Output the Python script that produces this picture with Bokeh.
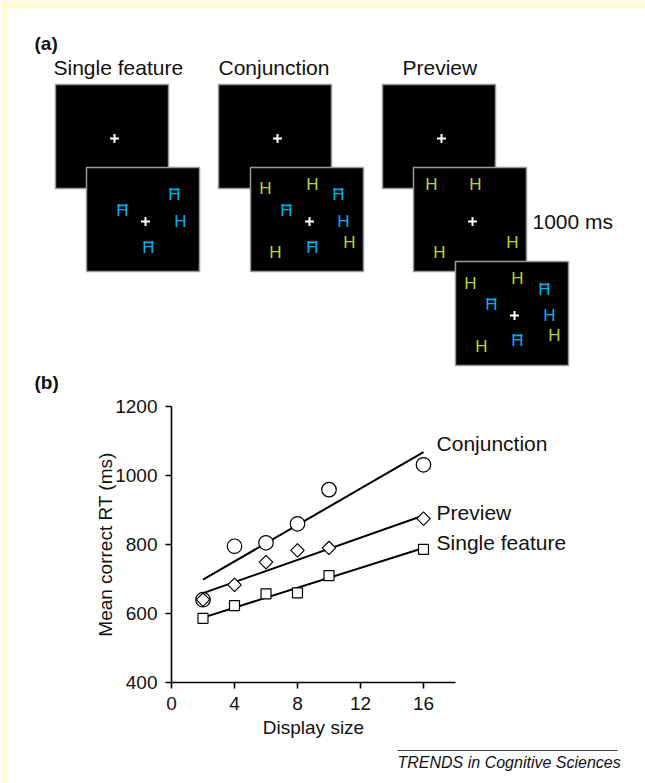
from bokeh.plotting import figure
from bokeh.models import Range1d, FixedTicker, LinearAxis
from bokeh.embed import file_html
from bokeh.resources import INLINE
from bokeh.core.properties import value
import math

# ---------------- data : panel (b) ----------------
display_size = [2, 4, 6, 8, 10, 16]
rt_single = [586, 623, 657, 660, 710, 786]
rt_preview = [640, 683, 749, 783, 790, 875]
rt_conjunction = [640, 795, 805, 860, 959, 1031]
fit_x = [2, 16]
fit_single = [588, 790]
fit_preview = [659, 884]
fit_conjunction = [698, 1068]
series_names = ["Conjunction", "Preview", "Single feature"]
series_label_y = [1093, 893, 806]
x_ticks = [0, 4, 8, 12, 16]
y_ticks = [400, 600, 800, 1000, 1200]

# ---------------- content : panel (a) ----------------
condition_titles = ["Single feature", "Conjunction", "Preview"]
duration_label = "1000 ms"
footer_text = "TRENDS in Cognitive Sciences"

FONT = "Liberation Sans"
BLUE = "#00AEEF"
GREEN = "#B2D235"
INK = "#111111"
PALE = "#FFFAD4"

W, H = 645, 783
p = figure(width=W, height=H, x_range=Range1d(0, W), y_range=Range1d(H, 0),
           x_axis_type=None, y_axis_type=None, min_border=0,
           toolbar_location=None, output_backend="svg", outline_line_color=None)
p.grid.visible = False

# page frame (pale strip on top / left)
p.quad(left=[0, 0], right=[W, 7.5], top=[0, 0], bottom=[8, H], fill_color=PALE, line_color=None)

# ---------------- panel (a) ----------------
BW, BH = 113, 104
box_tl = [(55, 84), (86, 167), (218, 84), (250, 167), (382, 84), (413, 167), (455, 261)]
p.quad(left=[b[0] for b in box_tl], right=[b[0] + BW for b in box_tl],
       top=[b[1] for b in box_tl], bottom=[b[1] + BH for b in box_tl],
       fill_color="black", line_color="#9a9a9a", line_width=1.5)

plus_xy = [(114, 138), (145, 221), (277, 138), (309, 221), (441, 138), (472, 221), (514, 315)]
p.scatter([q[0] for q in plus_xy], [q[1] for q in plus_xy], marker="cross",
          size=9, line_color="white", line_width=2)

stimuli = [
    (174, 194, "A", BLUE), (122, 210, "A", BLUE), (180, 221, "H", BLUE), (148, 247, "A", BLUE),
    (265, 188, "H", GREEN), (312, 184, "H", GREEN), (338, 194, "A", BLUE), (286, 210, "A", BLUE),
    (343, 221, "H", BLUE), (349, 242, "H", GREEN), (275, 252, "H", GREEN), (312, 247, "A", BLUE),
    (431, 184, "H", GREEN), (475, 184, "H", GREEN), (512, 242, "H", GREEN), (439, 252, "H", GREEN),
    (470, 283, "H", GREEN), (517, 278, "H", GREEN), (544, 289, "A", BLUE), (491, 304, "A", BLUE),
    (549, 315, "H", BLUE), (554, 335, "H", GREEN), (481, 346, "H", GREEN), (517, 340, "A", BLUE),
]
LS = 17
p.text(x=[s[0] for s in stimuli], y=[s[1] for s in stimuli], text=["H"] * len(stimuli),
       text_color=[s[3] for s in stimuli], text_font=value(FONT),
       text_font_size=f"{LS}px", text_align="center", text_baseline="middle")
a_st = [s for s in stimuli if s[2] == "A"]
half_w = 0.2815 * LS
cap_top = 0.358 * LS
p.segment(x0=[s[0] - half_w for s in a_st], x1=[s[0] + half_w for s in a_st],
          y0=[s[1] - cap_top + 1.0 for s in a_st], y1=[s[1] - cap_top + 1.0 for s in a_st],
          line_color=[s[3] for s in a_st], line_width=1.8)

p.text(x=[53, 218, 402], y=[67, 67, 67], text=condition_titles, text_color=INK,
       text_font=value(FONT), text_font_size="21px", text_align="left",
       text_baseline="middle")
p.text(x=[532], y=[221], text=[duration_label], text_color=INK,
       text_font=value(FONT), text_font_size="21px", text_align="left",
       text_baseline="middle")
p.text(x=[34, 34], y=[43, 382], text=["(a)", "(b)"], text_color=INK,
       text_font=value(FONT), text_font_size="19px", text_font_style="bold",
       text_align="left", text_baseline="middle")

# ---------------- panel (b): its own scales ----------------
X0_PX, PX_PER_X = 171.0, 15.75          # screen x of display size 0, px per unit
Y400_PX, PX_PER_Y = 682.0, 69.0 / 200   # screen y of 400 ms, px per ms
p.extra_x_ranges = {"b": Range1d(-X0_PX / PX_PER_X, (W - X0_PX) / PX_PER_X)}
p.extra_y_ranges = {"b": Range1d(400 - (H - Y400_PX) / PX_PER_Y, 400 + Y400_PX / PX_PER_Y)}


def style_axis(ax):
    ax.axis_line_width = 1.6
    ax.axis_line_color = "black"
    ax.major_tick_line_width = 1.6
    ax.major_tick_line_color = "black"
    ax.major_tick_out = 6
    ax.major_tick_in = 0
    ax.minor_tick_line_color = None
    ax.major_label_text_font = FONT
    ax.major_label_text_font_size = "19px"
    ax.major_label_text_color = INK
    ax.axis_label_text_font = FONT
    ax.axis_label_text_font_size = "19px"
    ax.axis_label_text_font_style = "normal"
    ax.axis_label_text_color = INK


xax = LinearAxis(x_range_name="b", y_range_name="b", fixed_location=400, bounds=(0, 18),
                 ticker=FixedTicker(ticks=x_ticks), axis_label="Display size")
style_axis(xax)
xax.major_label_standoff = 8
xax.axis_label_standoff = 4
p.add_layout(xax, "below")

yax = LinearAxis(x_range_name="b", y_range_name="b", fixed_location=0, bounds=(400, 1200),
                 ticker=FixedTicker(ticks=y_ticks), axis_label="Mean correct RT (ms)")
style_axis(yax)
yax.major_label_standoff = 8
yax.axis_label_standoff = -4
p.add_layout(yax, "left")

for fy in (fit_conjunction, fit_preview, fit_single):
    p.line(fit_x, fy, line_color="black", line_width=2, x_range_name="b", y_range_name="b")

p.scatter(display_size, rt_single, marker="square", size=10, fill_color="white",
          line_color="black", line_width=1.2, x_range_name="b", y_range_name="b")
p.scatter(display_size, rt_conjunction, marker="circle", size=14.5, fill_color="white",
          line_color="black", line_width=1.2, x_range_name="b", y_range_name="b")
p.scatter(display_size, rt_preview, marker="square", angle=math.pi / 4, size=9.5,
          fill_color="white", line_color="black", line_width=1.2,
          x_range_name="b", y_range_name="b")

p.text(x=[16.83] * 3, y=series_label_y, text=series_names, text_color=INK,
       text_font=value(FONT), text_font_size="21px", text_align="left",
       text_baseline="middle", x_range_name="b", y_range_name="b")

# ---------------- footer ----------------
p.segment(x0=[397], x1=[617], y0=[750], y1=[750], line_color="#444444", line_width=1)
p.text(x=[397], y=[762], text=[footer_text], text_color=INK, text_font=value(FONT),
       text_font_size="16px", text_font_style="italic", text_align="left",
       text_baseline="middle")

open("out.html", "w").write(file_html(p, INLINE))
